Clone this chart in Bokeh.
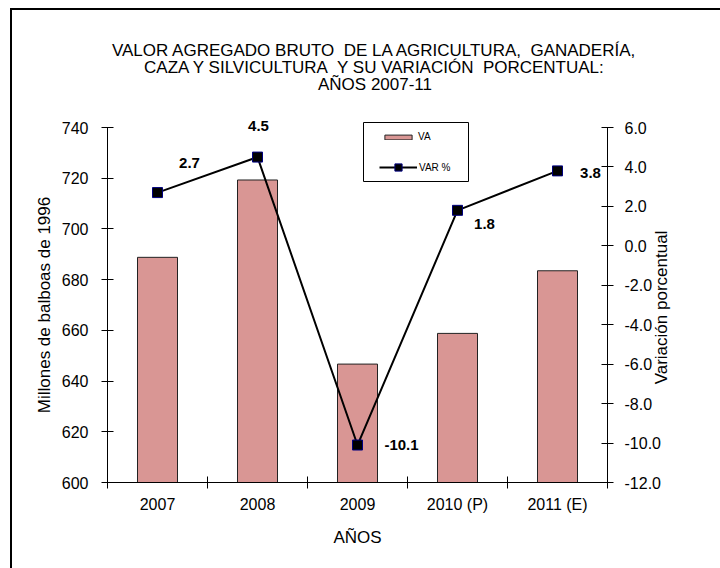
import math
from bokeh.plotting import figure
from bokeh.models import (Range1d, LinearAxis, FixedTicker, PrintfTickFormatter,
                          ColumnDataSource, LabelSet, Label, Legend, LegendItem,
                          BoxAnnotation)
from bokeh.core.properties import value
from bokeh.embed import file_html
from bokeh.resources import INLINE

# ---- data ----
years = ["2007", "2008", "2009", "2010 (P)", "2011 (E)"]
va = [688.8, 719.3, 646.7, 658.8, 683.5]          # Millones de balboas de 1996
var_pct = [2.7, 4.5, -10.1, 1.8, 3.8]              # Variación porcentual
var_labels = ["2.7", "4.5", "-10.1", "1.8", "3.8"]
left_ticks = [600, 620, 640, 660, 680, 700, 720, 740]
right_ticks = [-12, -10, -8, -6, -4, -2, 0, 2, 4, 6]
title_lines = ["VALOR AGREGADO BRUTO\u00a0 DE LA AGRICULTURA,\u00a0 GANADERÍA,",
               "CAZA Y SILVICULTURA\u00a0 Y SU VARIACIÓN\u00a0 PORCENTUAL:",
               "AÑOS 2007-11"]

# ---- layout / styles ----
W, H = 720, 568
PL, PR, PT, PB = 107, 607, 127, 482        # plot area in pixels
L_MIN, L_MAX = 600, 740
R_MIN, R_MAX = -12, 6
FONT = "Liberation Sans"
BAR_COLOR = "#D99694"
lbl_dx = [32, 1, 44, 27, 33]
lbl_dy = [30, 31, 0, -14, -2]

n = len(years)
xs = [i + 1 for i in range(n)]
boundaries = [i + 0.5 for i in range(n + 1)]

cat_px = (PR - PL) / n
ly_px = (PB - PT) / (L_MAX - L_MIN)
ry_px = (PB - PT) / (R_MAX - R_MIN)
x_range = Range1d(0.5 - PL / cat_px, 0.5 + (W - PL) / cat_px)
y_range = Range1d(L_MIN - (H - PB) / ly_px, L_MAX + PT / ly_px)
r_range = Range1d(R_MIN - (H - PB) / ry_px, R_MAX + PT / ry_px)

p = figure(width=W, height=H, output_backend="svg", toolbar_location=None,
           x_range=x_range, y_range=y_range, min_border=0,
           x_axis_type=None, y_axis_type=None,
           styles={"background": "linear-gradient(#000,#000) 10px 8px/2px 100% no-repeat, "
                                 "linear-gradient(#000,#000) 10px 8px/100% 2px no-repeat"})
p.extra_y_ranges = {"var": r_range}
p.xgrid.visible = False
p.ygrid.visible = False
p.outline_line_color = None
p.border_fill_color = None
p.background_fill_color = None

src = ColumnDataSource(dict(x=xs, va=va, var=var_pct, lab=var_labels,
                            dx=lbl_dx, dy=lbl_dy))

bars = p.vbar(x="x", top="va", bottom=L_MIN, width=0.4, source=src,
              fill_color=BAR_COLOR, line_color="#222222", line_width=1)
ln = p.line(x="x", y="var", source=src, y_range_name="var",
            line_color="black", line_width=2)
mk = p.scatter(x="x", y="var", source=src, y_range_name="var", marker="square",
               size=10, fill_color="black", line_color="#000080", line_width=1)

labels = LabelSet(x="x", y="var", text="lab", source=src, y_range_name="var",
                  x_offset="dx", y_offset="dy", text_align="center",
                  text_baseline="middle", text_font=value(FONT),
                  text_font_size="15px", text_font_style="bold", text_color="black")
p.add_layout(labels)

# axes
def style_axis(ax):
    ax.axis_line_color = "black"
    ax.major_tick_line_color = "black"
    ax.minor_tick_line_color = "black"
    ax.major_label_text_font = FONT
    ax.major_label_text_font_size = "16px"
    ax.major_label_text_color = "black"
    ax.axis_label_text_font = FONT
    ax.axis_label_text_font_size = "17px"
    ax.axis_label_text_font_style = "normal"
    ax.axis_label_text_color = "black"

yl = LinearAxis(ticker=FixedTicker(ticks=left_ticks), fixed_location=0.5,
                bounds=(L_MIN, L_MAX), axis_label="Millones de balboas de 1996")
style_axis(yl)
yl.major_tick_in = 6
yl.major_tick_out = 6
yl.minor_tick_in = 0
yl.minor_tick_out = 0
yl.major_label_standoff = 13
yl.axis_label_standoff = 5
p.add_layout(yl, "left")

yr = LinearAxis(y_range_name="var", ticker=FixedTicker(ticks=right_ticks),
                fixed_location=n + 0.5, bounds=(R_MIN, R_MAX),
                formatter=PrintfTickFormatter(format="%.1f"))
style_axis(yr)
yr.major_tick_in = 6
yr.major_tick_out = 6
yr.minor_tick_in = 0
yr.minor_tick_out = 0
yr.major_label_standoff = 11
p.add_layout(yr, "right")

xa = LinearAxis(ticker=FixedTicker(ticks=xs, minor_ticks=boundaries),
                fixed_location=L_MIN, bounds=(0.5, n + 0.5), axis_label="AÑOS")
style_axis(xa)
xa.major_label_overrides = {x: y for x, y in zip(xs, years)}
xa.major_tick_in = 0
xa.major_tick_out = 0
xa.minor_tick_in = 6
xa.minor_tick_out = 6
xa.major_label_standoff = 7
xa.axis_label_standoff = 12
p.add_layout(xa, "below")

# right axis title
p.add_layout(Label(x=660.5, y=H - 307, x_units="screen", y_units="screen",
                   text="Variación porcentual", angle=math.pi / 2,
                   text_align="center", text_baseline="middle", text_font=FONT,
                   text_font_size="17px", text_color="black"))

# legend box + two borderless legends
p.add_layout(BoxAnnotation(left=363, right=468, top=H - 122, bottom=H - 181,
                           left_units="screen", right_units="screen",
                           top_units="screen", bottom_units="screen",
                           fill_color="white", fill_alpha=1,
                           line_color="black", line_width=1, line_alpha=1))
leg_common = dict(orientation="vertical", border_line_color=None,
                  background_fill_alpha=0, padding=0, margin=0, spacing=0,
                  label_text_font=FONT, label_text_font_size="10px",
                  label_text_color="black")
leg_va = Legend(items=[LegendItem(label="VA", renderers=[bars])],
                location=(381, H - 142), glyph_width=34, glyph_height=6,
                label_height=6, label_standoff=3, **leg_common)
leg_var = Legend(items=[LegendItem(label="VAR %", renderers=[ln, mk])],
                 location=(379, H - 176), glyph_width=38, glyph_height=18,
                 label_height=18, label_standoff=2, **leg_common)
p.add_layout(leg_va, "center")
p.add_layout(leg_var, "center")

# title
title_y = [50, 67, 84]
for t, ty in zip(title_lines, title_y):
    p.add_layout(Label(x=374.5, y=H - ty, x_units="screen", y_units="screen", text=t,
                       text_align="center", text_baseline="middle",
                       text_font=FONT, text_font_size="17px",
                       text_color="black"))

open("out.html", "w").write(file_html(p, INLINE))
